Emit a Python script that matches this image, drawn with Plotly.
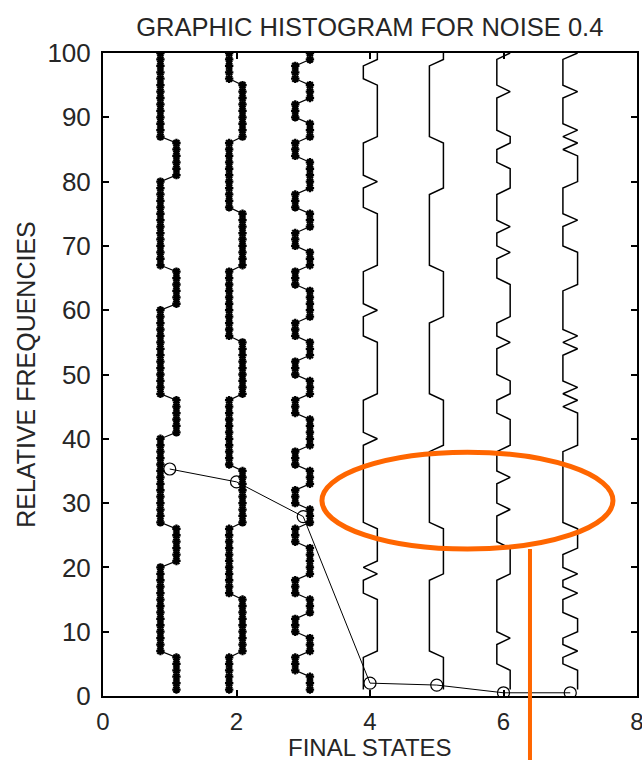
import plotly.graph_objects as go

# ---------------- data ----------------
y_steps = list(range(1, 101))          # relative-frequency samples 1..100
states = [1, 2, 3, 4, 5, 6, 7]
left_pos = [0.86, 1.89, 2.88, 3.90, 4.89, 5.90, 6.89]
right_pos = [1.10, 2.09, 3.10, 4.11, 5.10, 6.10, 7.11]

# side of each trace at y = 1..100 (bottom to top), R = right, L = left
track_1 = ("RRRRRRLLLLLLLLLLLLLL RRRRRRLLLLLLLLLLLLLL RRRRRRLLLLLLLLLLLLLL "
           "RRRRRRLLLLLLLLLLLLLL RRRRRRLLLLLLLLLLLLLL")
track_2 = ("LLLLLLRRRRRRRRRLLLLL LLLLLLRRRRRRRRRLLLLL LLLLLLRRRRRRRRRLLLLL "
           "LLLLLLRRRRRRRRRLLLLL LLLLLLRRRRRRRRRLLLLL")
track_3 = ("RRRLLLRRRLLLRRRLLLRR RRRLLLRRRLLLRRRLLLRR RRRLLLRRRLLLRRRLLLRR "
           "RRRLLLRRRLLLRRRLLLRR RRRLLLRRRLLLRRRLLLRR")
track_4 = ("LLLLLLRRRRRRRRRLLLRL RRRRRRLLLLLLLLLLLLLR LLLLLLRRRRRRRRRLLLLR "
           "LLLLLLRRRRRRRRRLLLLR LLLLLLRRRRRRRRRLLLRR")
track_5 = ("RRRRRRLLLLLLLLLLLLRR RRRRRRLLLLLLLLLLLLRR RRRRRRLLLLLLLLLLLLRR "
           "RRRRRRLLLLLLLLLLLLRR RRRRRRLLLLLLLLLLLLRR")
track_6 = ("RRRRLLLLRLLLLLLLLLRR RRRLLLLLRLLLLRLLLLRR RRRLLLRRRLLLLLRLLLRR "
           "RRRRLLLLRLLLRLLLLLRR RRLLLRRLLLLLLRLLLLLR")
track_7 = ("RRRRLLRLLRRRLLLRLLRL LLRRRRLLLLLLLLLLLLRR RRRRLRLRLLLLLRLRLLLL "
           "LLLRRRRRRLLLLRLLLLLR RRRRLRLRLLLLLRLLLLLR")
tracks = [track_1, track_2, track_3, track_4, track_5, track_6, track_7]
with_markers = [True, True, True, False, False, False, False]

# relative frequency of each final state (open circles)
freq_states = [1, 2, 3, 4, 5, 6, 7]
freq_values = [35.3, 33.3, 27.9, 2.0, 1.7, 0.5, 0.5]

# ---------------- figure ----------------
FONT = "Liberation Sans, Arial, sans-serif"
TXT = "#262626"
fig = go.Figure()

for i, s in enumerate(states):
    seq = tracks[i].replace(" ", "")
    xs = [right_pos[i] if c == "R" else left_pos[i] for c in seq]
    if with_markers[i]:
        fig.add_trace(go.Scatter(
            x=xs, y=y_steps, mode="lines+markers",
            line=dict(color="black", width=1.2),
            marker=dict(symbol="asterisk", size=7, color="black",
                        line=dict(color="black", width=2.3)),
            showlegend=False, hoverinfo="skip"))
    else:
        fig.add_trace(go.Scatter(
            x=xs, y=y_steps, mode="lines",
            line=dict(color="black", width=1.5),
            showlegend=False, hoverinfo="skip"))

fig.add_trace(go.Scatter(
    x=freq_states, y=freq_values, mode="lines+markers",
    line=dict(color="black", width=1),
    marker=dict(symbol="circle-open", size=12, color="black",
                line=dict(color="black", width=1.2)),
    showlegend=False, hoverinfo="skip"))

# orange annotation (ellipse + pointer line), paper coordinates
fig.add_shape(type="circle", xref="paper", yref="paper",
              x0=0.410, x1=0.955, y0=0.2285, y1=0.379,
              line=dict(color="#FF6600", width=5), layer="above")
fig.add_shape(type="line", xref="paper", yref="paper",
              x0=0.7996, x1=0.7996, y0=0.2285, y1=-0.12,
              line=dict(color="#FF6600", width=4), layer="above")

axis_common = dict(
    showgrid=False, zeroline=False, showline=True, linecolor="black",
    linewidth=2, mirror="ticks", ticks="inside", ticklen=6,
    tickwidth=1.5, tickcolor="black",
    ticklabeloverflow="allow", automargin=False)

fig.update_xaxes(range=[0, 8], tickvals=[0, 2, 4, 6, 8],
                 ticklabelstandoff=3,
                 tickfont=dict(family=FONT, size=24, color=TXT),
                 **axis_common)
fig.update_yaxes(range=[0, 100], tickvals=list(range(0, 101, 10)),
                 ticklabelstandoff=5,
                 tickfont=dict(family=FONT, size=26, color=TXT),
                 title=dict(text="RELATIVE FREQUENCIES",
                            font=dict(family=FONT, size=25, color=TXT),
                            standoff=5),
                 **axis_common)

# x-axis title placed as text below the tick labels
fig.add_annotation(text="FINAL STATES", xref="paper", yref="paper",
                   x=0.5, y=-0.0795, xanchor="center", yanchor="middle",
                   showarrow=False,
                   font=dict(family=FONT, size=24, color=TXT))

fig.update_layout(
    width=642, height=760,
    margin=dict(l=103, r=5, t=53, b=64, autoexpand=False),
    paper_bgcolor="white", plot_bgcolor="white",
    title=dict(text="GRAPHIC HISTOGRAM FOR NOISE 0.4",
               font=dict(family=FONT, size=25.5, color=TXT),
               x=0.576, xanchor="center", y=0.9645, yanchor="middle"),
)

fig.write_html("out.html",
               config={"displayModeBar": False},
               post_script="document.body.style.margin='0px';"
                           "document.body.style.overflow='hidden';")
